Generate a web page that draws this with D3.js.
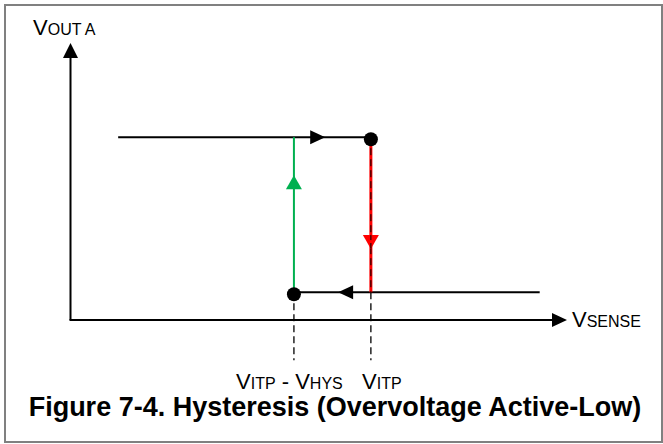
<!DOCTYPE html>
<html>
<head>
<meta charset="utf-8">
<script src="https://cdn.jsdelivr.net/npm/d3@7"></script>
<style>
  html, body { margin: 0; padding: 0; background: #fff; }
  svg { display: block; }
  text { font-family: "Liberation Sans", Arial, sans-serif; fill: #000; }
</style>
</head>
<body>
<svg id="chart" width="663" height="444"></svg>
<script>
// ---- data (conceptual units) ----
const outputLevels = [6.6, 1];              // high, low V_OUT A levels
const thresholds = [4.5, 6.05];             // V_ITP - V_HYS, V_ITP
const thresholdLabels = [
  [{t: "V", big: true}, {t: "ITP", big: false}, {t: " - ", big: true}, {t: "V", big: true}, {t: "HYS", big: false}],
  [{t: "V", big: true}, {t: "ITP", big: false}]
];
const sweepStart = [0.96, 9.45];            // top line starts, bottom line starts
const arrowAt = [5.13, 5.39, 5.23, 2.56];   // top, bottom, green (y), red (y)
const axisLabels = [
  [{t: "V", big: true}, {t: "OUT A", big: false}],
  [{t: "V", big: true}, {t: "SENSE", big: false}]
];
const title = "Figure 7-4. Hysteresis (Overvoltage Active-Low)";

// ---- scales ----
const x = d3.scaleLinear().domain([0, 10]).range([70.5, 567]);
const y = d3.scaleLinear().domain([0, 10]).range([320, 43]);

const svg = d3.select("#chart");

// border
svg.append("rect").attr("x", 5).attr("y", 5).attr("width", 657).attr("height", 437)
  .attr("fill", "none").attr("stroke", "#808080").attr("stroke-width", 2);

function arrow(g, tx, ty, dir, len, half, color) {
  let pts;
  if (dir === "right") pts = [[tx, ty], [tx - len, ty - half], [tx - len, ty + half]];
  if (dir === "left") pts = [[tx, ty], [tx + len, ty - half], [tx + len, ty + half]];
  if (dir === "up") pts = [[tx, ty], [tx - half, ty + len], [tx + half, ty + len]];
  if (dir === "down") pts = [[tx, ty], [tx - half, ty - len], [tx + half, ty - len]];
  g.append("polygon").attr("points", pts.map(p => p.join(",")).join(" ")).attr("fill", color);
}

const g = svg.append("g");
const [high, low] = outputLevels;
const [tLow, tHigh] = thresholds;

// axes
g.append("line").attr("x1", x(0)).attr("y1", y(0)).attr("x2", x(0)).attr("y2", y(10) + 12)
  .attr("stroke", "#000").attr("stroke-width", 2);
arrow(g, x(0), y(10), "up", 15, 7.5, "#000");
g.append("line").attr("x1", x(0) - 1).attr("y1", y(0)).attr("x2", x(10) - 12).attr("y2", y(0))
  .attr("stroke", "#000").attr("stroke-width", 2);
arrow(g, x(10), y(0), "right", 15, 7, "#000");

// dashed threshold guides
thresholds.forEach(t => {
  g.append("line").attr("x1", x(t)).attr("y1", y(low)).attr("x2", x(t)).attr("y2", y(-1.45))
    .attr("stroke", "#000").attr("stroke-width", 1.3).attr("stroke-dasharray", "7,4");
});

// top line (rising sweep)
g.append("line").attr("x1", x(sweepStart[0])).attr("y1", y(high)).attr("x2", x(tHigh)).attr("y2", y(high))
  .attr("stroke", "#000").attr("stroke-width", 2);
arrow(g, x(arrowAt[0]), y(high), "right", 15, 7, "#000");

// bottom line (falling sweep)
g.append("line").attr("x1", x(sweepStart[1])).attr("y1", y(low)).attr("x2", x(tLow)).attr("y2", y(low))
  .attr("stroke", "#000").attr("stroke-width", 2);
arrow(g, x(arrowAt[1]), y(low), "left", 15, 7, "#000");

// green transition (up)
g.append("line").attr("x1", x(tLow)).attr("y1", y(low)).attr("x2", x(tLow)).attr("y2", y(high))
  .attr("stroke", "#00b050").attr("stroke-width", 2);
arrow(g, x(tLow), y(arrowAt[2]), "up", 14, 8, "#00b050");

// red transition (down) with black dashes
g.append("line").attr("x1", x(tHigh)).attr("y1", y(high)).attr("x2", x(tHigh)).attr("y2", y(low))
  .attr("stroke", "#ff0000").attr("stroke-width", 3);
g.append("line").attr("x1", x(tHigh)).attr("y1", y(high)).attr("x2", x(tHigh)).attr("y2", y(low))
  .attr("stroke", "#000").attr("stroke-width", 1).attr("stroke-dasharray", "7,4");
arrow(g, x(tHigh), y(arrowAt[3]), "down", 14, 8, "#ff0000");
g.append("line").attr("x1", x(tHigh)).attr("y1", y(arrowAt[3]) - 14).attr("x2", x(tHigh)).attr("y2", y(arrowAt[3]))
  .attr("stroke", "#000").attr("stroke-width", 1).attr("stroke-dasharray", "5,3");

// circles
g.append("circle").attr("cx", x(tHigh)).attr("cy", y(high) + 2).attr("r", 7).attr("fill", "#000");
g.append("circle").attr("cx", x(tLow)).attr("cy", y(low) + 2).attr("r", 7).attr("fill", "#000");

function label(parts, lx, ly, anchor) {
  const t = svg.append("text").attr("x", lx).attr("y", ly).attr("text-anchor", anchor || "start");
  parts.forEach(p => t.append("tspan").attr("font-size", p.big ? 22 : 16).text(p.t));
  t.attr("xml:space", "preserve").style("white-space", "pre");
  return t;
}

// axis labels
label(axisLabels[0], 33, 35);
label(axisLabels[1], 572, 327);

// threshold labels
label(thresholdLabels[0], 236, 389);
label(thresholdLabels[1], 362, 389);

// title
svg.append("text").attr("x", 335).attr("y", 416).attr("text-anchor", "middle")
  .attr("font-size", 27).attr("font-weight", "bold").text(title);
</script>
</body>
</html>
